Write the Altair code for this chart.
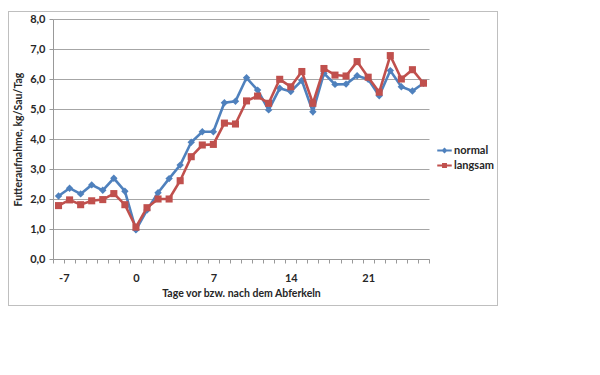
import altair as alt
import pandas as pd

days = list(range(-7, 27))
normal = [2.10, 2.36, 2.17, 2.47, 2.29, 2.69, 2.26, 0.97, 1.63, 2.21, 2.68, 3.13,
          3.89, 4.24, 4.24, 5.21, 5.26, 6.04, 5.63, 4.97, 5.69, 5.58, 5.95, 4.91,
          6.19, 5.82, 5.83, 6.11, 5.99, 5.44, 6.28, 5.74, 5.60, 5.86]
langsam = [1.78, 1.97, 1.81, 1.94, 1.98, 2.18, 1.81, 1.06, 1.71, 2.00, 2.00, 2.61,
           3.41, 3.80, 3.82, 4.53, 4.50, 5.27, 5.43, 5.19, 5.99, 5.74, 6.25, 5.19,
           6.35, 6.13, 6.10, 6.58, 6.06, 5.56, 6.78, 6.00, 6.31, 5.86]
series_names = ["normal", "langsam"]
series_colors = ["#4F81BD", "#C0504D"]
x_tick_values = [d - 0.5 for d in range(-7, 28)]
y_tick_values = [0, 1, 2, 3, 4, 5, 6, 7, 8]

df = pd.DataFrame(
    {"day": days * 2,
     "value": normal + langsam,
     "series": ["normal"] * len(days) + ["langsam"] * len(days)}
)

W, H = 376, 240
FONT = "Lato"
TXT = "#262626"
unit = W / 34.0

x_enc = alt.X(
    "day:Q",
    scale=alt.Scale(domain=[-7.5, 26.5], nice=False, zero=False),
    axis=alt.Axis(
        values=x_tick_values,
        labelExpr="(datum.value + 0.5) % 7 == 0 && datum.value < 26 ? '' + (datum.value + 0.5) : ''",
        labelOffset=unit / 2,
        grid=False,
        tickSize=4,
        tickColor="#999999",
        domainColor="#999999",
        labelPadding=9,
        labelFont=FONT, labelFontSize=11, labelFontWeight="bold", labelColor=TXT,
        title="Tage vor bzw. nach dem Abferkeln",
        titleFont=FONT, titleFontSize=10.5, titleFontWeight="bold", titleColor=TXT,
        titlePadding=5,
    ),
)
y_enc = alt.Y(
    "value:Q",
    scale=alt.Scale(domain=[0, 8], nice=False),
    axis=alt.Axis(
        values=y_tick_values,
        labelExpr="replace(format(datum.value, '.1f'), '.', ',')",
        grid=True, gridColor="#A6A6A6", gridWidth=1,
        tickSize=4, tickColor="#999999", domainColor="#999999",
        labelPadding=4,
        labelFont=FONT, labelFontSize=11, labelFontWeight="bold", labelColor=TXT,
        title="Futteraufnahme, kg/Sau/Tag",
        titleFont=FONT, titleFontSize=10.5, titleFontWeight="bold", titleColor=TXT,
        titlePadding=6,
    ),
)

layers = []
shapes = ["diamond", "square"]
sizes = [55, 50]
for name, col, shp, sz in zip(series_names, series_colors, shapes, sizes):
    base = alt.Chart(df).transform_filter(alt.datum.series == name)
    layers.append(base.mark_line(color=col, strokeWidth=2.6).encode(x=x_enc, y=y_enc))
    layers.append(base.mark_point(color=col, filled=True, opacity=1, shape=shp, size=sz).encode(x=x_enc, y=y_enc))

legend_paths = [
    "M-1,-0.13H1V0.13H-1Z M0,-0.42L0.42,0L0,0.42L-0.42,0Z",
    "M-1,-0.13H1V0.13H-1Z M-0.34,-0.34H0.34V0.34H-0.34Z",
]
leg = dict(title=None, orient="none", legendX=384, legendY=124, symbolSize=210,
           labelFont=FONT, labelFontSize=11, labelFontWeight="bold", labelColor=TXT,
           rowPadding=2, padding=0, symbolStrokeWidth=0, labelOffset=2)
legend_layer = alt.Chart(df).mark_point(filled=True, opacity=1).encode(
    x=x_enc, y=y_enc,
    color=alt.Color("series:N", scale=alt.Scale(domain=series_names, range=series_colors),
                    legend=alt.Legend(**leg)),
    shape=alt.Shape("series:N", scale=alt.Scale(domain=series_names, range=legend_paths),
                    legend=alt.Legend(**leg)),
).transform_filter("false")

border = alt.Chart(df).mark_rect(fill=None, stroke="#BFBFBF", strokeWidth=1).encode(
    x=alt.value(-44.5), x2=alt.value(444.5), y=alt.value(-7.5), y2=alt.value(286.5)
)

chart = alt.layer(border, *layers, legend_layer).properties(
    width=W, height=H,
    autosize=alt.AutoSizeParams(type="none"),
    padding={"left": 45, "top": 11, "right": 80, "bottom": 60},
    background="white",
).configure_view(stroke=None)

chart.save("out.html", embed_options={"renderer": "svg", "actions": False})
